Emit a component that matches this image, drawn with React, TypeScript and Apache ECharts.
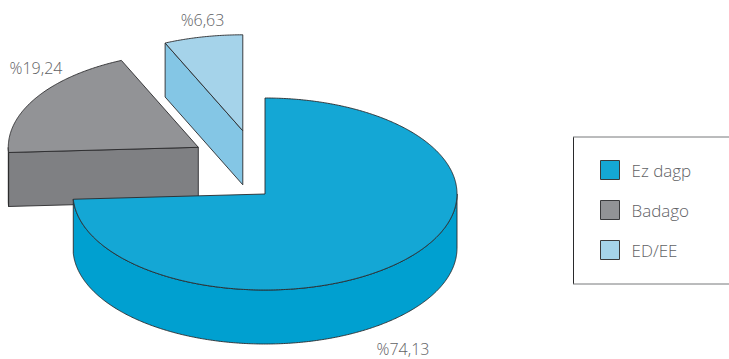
import React, { useEffect, useRef } from "react";
import * as echarts from "echarts";

// Shares of the three groups, clockwise from twelve o'clock.
const categories = ["Ez dagp", "Badago", "ED/EE"];
const shares = [74.13, 19.24, 6.63];

const topColors = ["#14a7d5", "#929396", "#a5d3ea"];
const wallColors = ["#00a0d0", "#7f8083", "#84c6e5"];

// Where each slice's apex sits after being pulled out of the pie, and its radius.
const apexes = [
  [265, 194],
  [198.3, 147.3],
  [242.8, 130.8],
];
const radiusX = [192, 190, 192];
const radiusY = [96, 95, 96];
const labelPositions = [
  [403, 349],
  [36, 68],
  [202.5, 20],
];
const DEPTH = 54;
const EDGE = "#2a2a2c";
const TEXT = "#616265";
const FONT = '"Open Sans", sans-serif';

const formatShare = (v: number) => "%" + v.toFixed(2).replace(".", ",");

function sliceAngles(index: number) {
  const total = shares.reduce((a, b) => a + b, 0);
  const before = shares.slice(0, index).reduce((a, b) => a + b, 0);
  return [(before / total) * 360, ((before + shares[index]) / total) * 360];
}

function renderSlice(index: number) {
  const [start, end] = sliceAngles(index);
  const [cx, cy] = apexes[index];
  const rx = radiusX[index];
  const ry = radiusY[index];
  const rim = (deg: number, drop = 0) => {
    const t = (deg * Math.PI) / 180;
    return [cx + rx * Math.sin(t), cy - ry * Math.cos(t) + drop];
  };
  const arc = (from: number, to: number, drop = 0) => {
    const pts: number[][] = [];
    const steps = Math.max(2, Math.ceil((to - from) * 2));
    for (let i = 0; i <= steps; i++) pts.push(rim(from + ((to - from) * i) / steps, drop));
    return pts;
  };
  const faceStyle = (fill: string) => ({ fill, stroke: EDGE, lineWidth: 0.9, lineJoin: "round" });
  const children: any[] = [];

  // Cut face on the starting side, visible only when it turns towards the viewer.
  if (Math.sin((start * Math.PI) / 180) < -1e-6) {
    const p = rim(start);
    children.push({
      type: "polygon",
      shape: { points: [[cx, cy], p, [p[0], p[1] + DEPTH], [cx, cy + DEPTH]] },
      style: faceStyle(wallColors[index]),
    });
  }
  // Outer wall: only the front half of the rim can be seen.
  const wallFrom = Math.max(start, 90);
  const wallTo = Math.min(end, 270);
  if (wallTo > wallFrom) {
    children.push({
      type: "polygon",
      shape: { points: [...arc(wallFrom, wallTo), ...arc(wallFrom, wallTo, DEPTH).reverse()] },
      style: faceStyle(wallColors[index]),
    });
  }
  // Top face.
  children.push({
    type: "polygon",
    shape: { points: [[cx, cy], ...arc(start, end)] },
    style: faceStyle(topColors[index]),
  });
  children.push({
    type: "text",
    style: {
      x: labelPositions[index][0],
      y: labelPositions[index][1],
      text: formatShare(shares[index]),
      fill: TEXT,
      font: `300 16px ${FONT}`,
      textAlign: "center",
      textVerticalAlign: "middle",
    },
  });
  return { type: "group", children };
}

export default function App() {
  const ref = useRef<HTMLDivElement>(null);
  useEffect(() => {
    const chart = echarts.init(ref.current!, null, { renderer: "svg" });
    // Painted back to front: the pulled-out slices first, the large one over them.
    const order = [2, 1, 0];
    chart.setOption({
      animation: false,
      backgroundColor: "#ffffff",
      legend: {
        orient: "vertical",
        left: 600,
        top: 160,
        padding: 0,
        itemWidth: 19,
        itemHeight: 19,
        itemGap: 20,
        selectedMode: false,
        icon: "rect",
        data: categories.map((name, i) => ({
          name,
          itemStyle: { color: topColors[i], borderColor: "#3a3a3c", borderWidth: 1 },
        })),
        textStyle: {
          color: TEXT,
          fontFamily: FONT,
          fontWeight: 300,
          fontSize: 17,
          lineHeight: 19,
          height: 19,
          padding: [0, 0, 0, 7],
        },
      },
      series: order.map((i) => ({
        type: "custom",
        name: categories[i],
        coordinateSystem: "none",
        itemStyle: { color: topColors[i] },
        data: [shares[i]],
        silent: true,
        renderItem: () => renderSlice(i),
      })),
      graphic: [
        { type: "line", shape: { x1: 573.5, y1: 137, x2: 573.5, y2: 284 }, style: { stroke: "#2a2a2c", lineWidth: 1 } },
        { type: "line", shape: { x1: 573, y1: 137, x2: 729, y2: 137 }, style: { stroke: "#77787b", lineWidth: 1 } },
        { type: "line", shape: { x1: 573, y1: 284, x2: 729, y2: 284 }, style: { stroke: "#77787b", lineWidth: 1 } },
      ],
    });
    return () => chart.dispose();
  }, []);
  return <div ref={ref} style={{ position: "absolute", left: 0, top: 0, width: 729, height: 359 }} />;
}
